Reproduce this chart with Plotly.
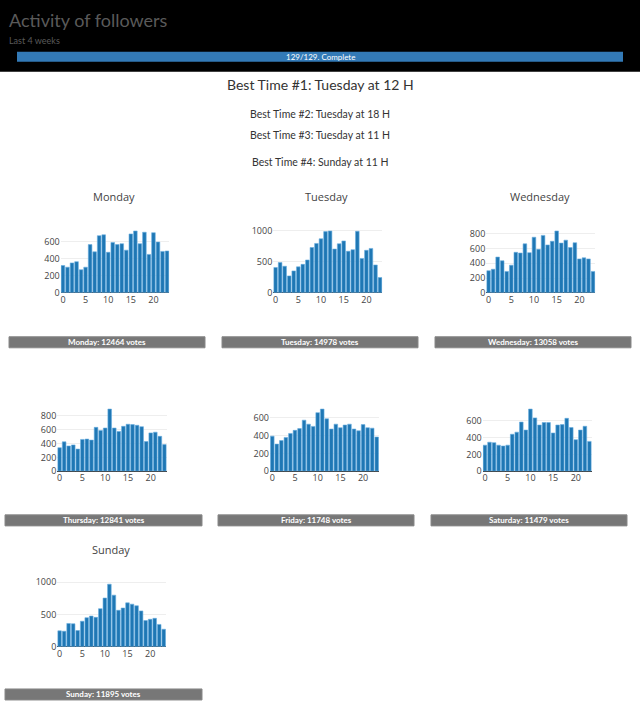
import plotly.graph_objects as go

days = ["Monday", "Tuesday", "Wednesday", "Thursday", "Friday", "Saturday", "Sunday"]
hours = list(range(24))

votes = {
    "Monday": [320, 300, 350, 365, 270, 300, 565, 480, 670, 680, 475, 590,
               565, 575, 500, 690, 725, 575, 710, 450, 705, 595, 485, 490],
    "Tuesday": [405, 485, 425, 270, 350, 415, 455, 525, 725, 790, 865, 980,
                990, 700, 785, 830, 665, 690, 985, 550, 680, 710, 445, 245],
    "Wednesday": [300, 320, 485, 435, 290, 375, 550, 540, 665, 545, 755, 590,
                  780, 650, 700, 840, 675, 715, 615, 680, 460, 475, 460, 290],
    "Thursday": [340, 425, 365, 380, 320, 460, 465, 450, 635, 590, 625, 900,
                 625, 575, 650, 680, 675, 665, 645, 430, 555, 565, 505, 385],
    "Friday": [395, 305, 345, 380, 425, 460, 480, 575, 530, 505, 660, 700,
               590, 475, 530, 490, 520, 530, 475, 455, 525, 490, 485, 385],
    "Saturday": [310, 345, 340, 310, 300, 310, 440, 465, 585, 490, 740, 635,
                 550, 580, 580, 455, 550, 555, 630, 520, 375, 490, 535, 355],
    "Sunday": [245, 240, 360, 355, 250, 395, 450, 475, 455, 590, 755, 970,
               800, 565, 600, 680, 660, 635, 555, 405, 425, 440, 345, 270],
}
totals = [12464, 14978, 13058, 12841, 11748, 11479, 11895]
best_times = [
    "Best Time #1: Tuesday at 12 H",
    "Best Time #2: Tuesday at 18 H",
    "Best Time #3: Tuesday at 11 H",
    "Best Time #4: Sunday at 11 H",
]
y_dticks = [200, 500, 200, 200, 200, 200, 500]
show_title = [True, True, True, False, False, False, True]

W, H = 640, 711


def px(x):
    return x / W


def py(y):
    # page pixel -> paper coords (the page comes out slightly squeezed vertically)
    return 1 - ((y - 5.4) / 0.984) / H


# plot areas in pixels: (left, right, top, bottom)
plot_boxes = [
    (60.7, 169.3, 228, 293), (273.3, 382.3, 228, 293), (486.3, 595.3, 228, 293),
    (57.3, 166.7, 406, 471.3), (270, 379, 406, 471.3), (482.7, 591.7, 406, 471.3),
    (57.3, 166, 581, 646.7),
]
footer_boxes = [
    (9, 205, 337, 348), (222, 418, 337, 348), (435, 631, 337, 348),
    (5, 202, 515, 526), (218, 414, 515, 526), (431, 627, 515, 526),
    (5, 202, 689, 700),
]


def note(x, y, text, size, color, family="Lato", xanchor="center"):
    return dict(x=x, y=y, xref="paper", yref="paper", text=text, showarrow=False,
                xanchor=xanchor, yanchor="middle",
                font=dict(size=size, color=color, family=family))


fig = go.Figure()
shapes = []
annotations = []

for i, day in enumerate(days):
    n = "" if i == 0 else str(i + 1)
    fig.add_trace(go.Bar(
        x=hours, y=votes[day], xaxis="x" + n, yaxis="y" + n,
        marker=dict(color="#1f77b4", line=dict(color="#6aaee0", width=0.6)),
        showlegend=False,
    ))
    l, r, t, b = plot_boxes[i]
    fig.layout["xaxis" + n] = dict(
        domain=[px(l), px(r)], anchor="y" + n, dtick=5, tick0=0,
        showgrid=False, zeroline=False, ticks="",
        tickfont=dict(size=9, color="#444"),
    )
    fig.layout["yaxis" + n] = dict(
        domain=[py(b), py(t)], anchor="x" + n, dtick=y_dticks[i],
        gridcolor="#eee", zeroline=True, zerolinecolor="#444", zerolinewidth=1,
        tickfont=dict(size=9, color="#444"),
    )
    if show_title[i]:
        annotations.append(note(px((l + r) / 2 - 1), py(t - 31), day, 11, "#444", "Open Sans"))
    fl, fr, ft, fb = footer_boxes[i]
    shapes.append(dict(type="rect", xref="paper", yref="paper",
                       x0=px(fl), x1=px(fr), y0=py(fb), y1=py(ft),
                       fillcolor="#777", line=dict(color="#888", width=1)))
    annotations.append(note(px((fl + fr) / 2), py((ft + fb) / 2),
                            "<b>%s: %d votes</b>" % (day, totals[i]), 8, "white"))

# header
shapes.append(dict(type="rect", xref="paper", yref="paper", x0=0, x1=1,
                   y0=py(72), y1=1.05, fillcolor="black", line=dict(width=0), layer="below"))
shapes.append(dict(type="rect", xref="paper", yref="paper", x0=px(17), x1=px(623),
                   y0=py(62), y1=py(52), fillcolor="#337ab7", line=dict(width=0)))
annotations += [
    note(px(7), py(20), "Activity of followers", 18, "#5a5a5a", xanchor="left"),
    note(px(7), py(41), "Last 4 weeks", 9, "#5a5a5a", xanchor="left"),
    note(0.5, py(57), "129/129. Complete", 8, "white"),
]

for k, (txt, yy) in enumerate(zip(best_times, [85, 114, 135, 162])):
    annotations.append(note(0.5, py(yy), txt, 14 if k == 0 else 10.5, "#333"))

fig.update_layout(
    width=W, height=H, autosize=False,
    margin=dict(l=0, r=0, t=0, b=0),
    paper_bgcolor="white", plot_bgcolor="white",
    bargap=0.2,
    font=dict(family="Open Sans"),
    shapes=shapes, annotations=annotations,
)

fig.write_html(
    "out.html", config={"displayModeBar": False},
    post_script="document.body.style.margin = '0';",
)
